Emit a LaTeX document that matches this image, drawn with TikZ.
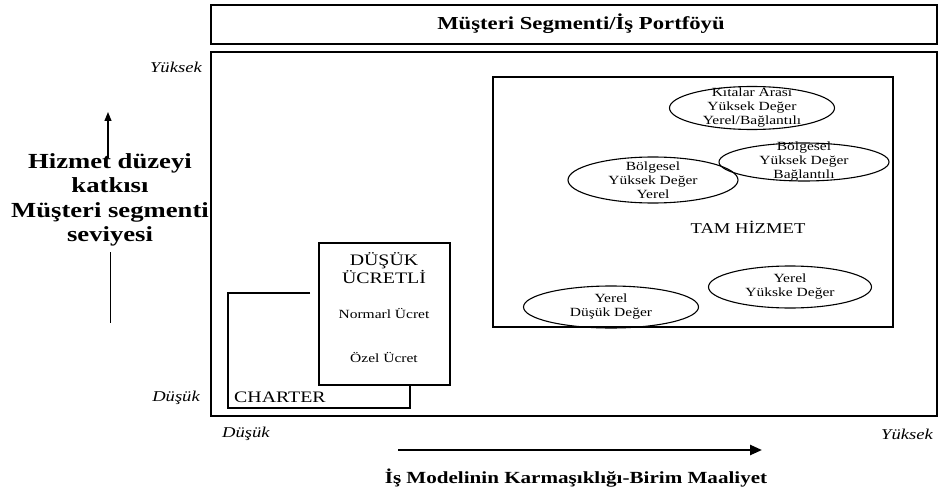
\documentclass[tikz,border=0pt]{standalone}
\usepackage{fontspec}
\setmainfont{Liberation Serif}[BoldFont={Liberation Serif Bold}, ItalicFont={Liberation Serif Italic}]
\newfontfamily\wide{Liberation Serif}[FakeStretch=1.24,
  BoldFont={Liberation Serif Bold}, ItalicFont={Liberation Serif Italic}]
\usetikzlibrary{shapes.geometric,arrows.meta}
\begin{document}
\begin{tikzpicture}[x=1pt,y=-1pt,
  frame/.style={draw, line width=2.6pt, inner sep=0pt},
  panel/.style={draw, line width=2.2pt, inner sep=0pt},
  lowbox/.style={draw, line width=2pt, fill=white, inner sep=0pt},
  oval/.style={draw, ellipse, line width=1.1pt, inner sep=0pt},
  ovaltext/.style={align=center, inner sep=0pt, font=\wide\fontsize{12.5}{14}\selectfont},
  axislabel/.style={inner sep=0pt, font=\wide\itshape\fontsize{15}{17}\selectfont},
  boxtext/.style={align=center, inner sep=0pt, font=\wide\fontsize{16}{17.5}\selectfont},
  smalltext/.style={inner sep=0pt, font=\wide\fontsize{12.5}{14}\selectfont},
  thinarrow/.style={line width=1.2pt, -{Triangle[length=9pt,width=7pt]}},
  thickarrow/.style={line width=2.4pt, -{Triangle[length=12pt,width=10pt]}}]
\useasboundingbox (0,0) rectangle (939,492);

% header and chart area
\node[frame, minimum width=726pt, minimum height=39pt] (title) at (574,24.5) {};
\node[inner sep=0pt, font=\wide\bfseries\fontsize{18.3}{20}\selectfont] (titletxt) at (581,23.5)
  {Müşteri Segmenti/İş Portföyü};
\node[frame, minimum width=726pt, minimum height=364pt] (chart) at (574,234) {};

% full service panel
\node[panel, minimum width=400pt, minimum height=250pt] (full) at (693,202) {};
\node[inner sep=0pt, font=\wide\fontsize{15}{18}\selectfont] (fulltxt) at (748,227) {TAM HİZMET};

\node[oval, minimum width=165pt, minimum height=43pt] (e1) at (752,108) {};
\node[ovaltext] (e1t) at (e1) {Kıtalar Arası\\Yüksek Değer\\Yerel/Bağlantılı};
\node[oval, minimum width=170pt, minimum height=38pt] (e2) at (804,162) {};
\node[ovaltext] (e2t) at (e2) {Bölgesel\\Yüksek Değer\\Bağlantılı};
\node[oval, minimum width=170pt, minimum height=46pt] (e3) at (653,180) {};
\node[ovaltext] (e3t) at (e3) {Bölgesel\\Yüksek Değer\\Yerel};
\node[oval, minimum width=163pt, minimum height=42pt] (e4) at (790,287) {};
\node[ovaltext] (e4t) at (e4) {Yerel\\Yükske Değer};
\node[oval, minimum width=175pt, minimum height=42pt] (e5) at (611,307) {};
\node[ovaltext] (e5t) at (e5) {Yerel\\Düşük Değer};

% charter outline and low-cost box
\draw[line width=2pt] (310,293) -- (228,293) -- (228,408) -- (410,408) -- (410,385);
\node[lowbox, minimum width=131pt, minimum height=142pt] (low) at (384.5,314) {};
\node[boxtext] (lowt) at (384,268) {DÜŞÜK\\ÜCRETLİ};
\node[smalltext] (norm) at (384,313) {Normarl Ücret};
\node[smalltext] (ozel) at (384,357) {Özel Ücret};
\node[boxtext, anchor=west] (charter) at (234,397) {CHARTER};

% vertical axis
\node[axislabel, anchor=east] (yhigh) at (202,67) {Yüksek};
\node[axislabel, anchor=east] (ylow) at (200,398) {Düşük};
\node[align=center, inner sep=0pt, font=\wide\bfseries\fontsize{21.5}{24.5}\selectfont] (ytitle) at (110,200)
  {Hizmet düzeyi\\katkısı\\Müşteri segmenti\\seviyesi};
\coordinate (upfoot) at (108,158);
\coordinate (uptip) at (108,112);
\draw[thinarrow] (upfoot) -- (uptip);
\coordinate (lowtop) at (110,252);
\coordinate (lowfoot) at (110,323);
\draw[line width=1pt] (lowtop) -- (lowfoot);

% horizontal axis
\node[axislabel, anchor=west] (xlow) at (222,434) {Düşük};
\node[axislabel, anchor=east] (xhigh) at (933,434) {Yüksek};
\coordinate (xstart) at (398,450);
\coordinate (xend) at (762,450);
\draw[thickarrow] (xstart) -- (xend);
\node[inner sep=0pt, font=\wide\bfseries\fontsize{17}{19}\selectfont] (xtitle) at (576,478)
  {İş Modelinin Karmaşıklığı-Birim Maaliyet};
\end{tikzpicture}
\end{document}
